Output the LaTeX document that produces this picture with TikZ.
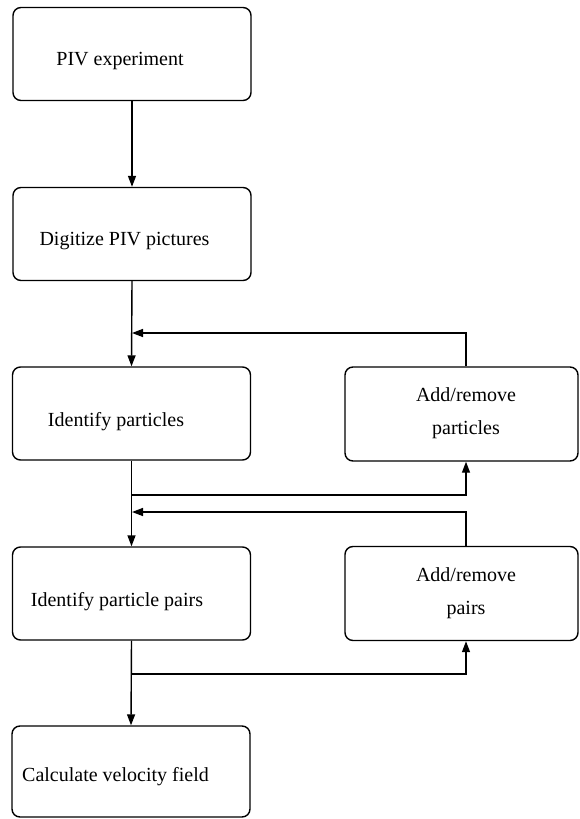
\documentclass[tikz,border=0pt]{standalone}
\usepackage{fontspec}
\setmainfont{Liberation Serif}
\usetikzlibrary{arrows.meta}

\begin{document}
\begin{tikzpicture}[x=1pt, y=-1pt, line width=1.4pt,
  stepbox/.style={draw, rounded corners=8pt, minimum width=238pt, minimum height=93pt, inner sep=0pt},
  sidebox/.style={draw, rounded corners=8pt, minimum width=233pt, minimum height=94pt, inner sep=0pt},
  lbl/.style={font=\fontsize{20}{33}\selectfont, align=center, inner sep=0pt},
  flow/.style={-{Triangle[length=11pt, width=8pt]}}]
  \useasboundingbox (0,0) rectangle (579,819);
  % main column
  \node[stepbox] (exp) at (132,54) {};
  \node[stepbox] (dig) at (132,234) {};
  \node[stepbox] (idp) at (131.5,413.5) {};
  \node[stepbox] (idpp) at (131.5,593.5) {};
  \node[stepbox, minimum height=91pt] (vel) at (131,771.5) {};
  \node[lbl] (expT) at (120,61) {PIV experiment};
  \node[lbl] (digT) at (124.5,241) {Digitize PIV pictures};
  \node[lbl] (idpT) at (116,422) {Identify particles};
  \node[lbl] (idppT) at (117,602) {Identify particle pairs};
  \node[lbl] (velT) at (115.5,777) {Calculate velocity field};
  % correction boxes
  \node[sidebox] (addp) at (461.5,414) {};
  \node[sidebox] (addpp) at (461.5,593.5) {};
  \node[lbl] (addpT) at (466,413) {Add/remove\\particles};
  \node[lbl] (addppT) at (466,593) {Add/remove\\pairs};
  % joints
  \coordinate (back1) at (132,333);
  \coordinate (fork1) at (132,495);
  \coordinate (back2) at (132,512);
  \coordinate (fork2) at (132,674);
  \draw[flow] (exp.south) -- (dig.north);
  \draw[flow] (dig.south) -- (idp.north);
  \draw[flow] ([xshift=4.5pt]addp.north) |- (back1);
  \draw[flow] (idp.south) -- (idpp.north);
  \draw[flow] (fork1) -| ([xshift=4.5pt]addp.south);
  \draw[flow] ([xshift=4.5pt]addpp.north) |- (back2);
  \draw[flow] (idpp.south) -- (vel.north);
  \draw[flow] (fork2) -| ([xshift=4.5pt]addpp.south);
\end{tikzpicture}
\end{document}
